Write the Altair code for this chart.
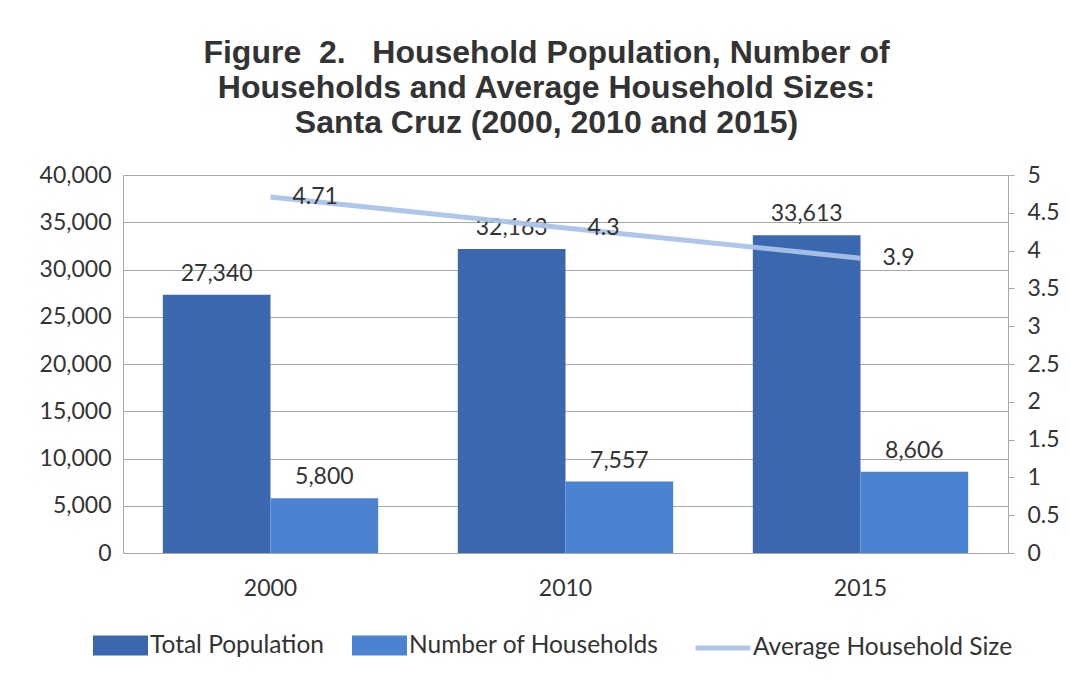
import altair as alt
import pandas as pd

years = ["2000", "2010", "2015"]
total_population = [27340, 32163, 33613]
households = [5800, 7557, 8606]
avg_household_size = [4.71, 4.3, 3.9]
bar_series = ["Total Population", "Number of Households"]
bar_colors = ["#3b67ae", "#4b83d2"]
line_series = ["Average Household Size"]
line_colors = ["#a9c3e8"]
left_ticks = [0, 5000, 10000, 15000, 20000, 25000, 30000, 35000, 40000]
right_ticks = [0, 0.5, 1, 1.5, 2, 2.5, 3, 3.5, 4, 4.5, 5]

bar_rows = []
for y, tp, hh in zip(years, total_population, households):
    bar_rows.append({"year": y, "series": bar_series[0], "value": tp})
    bar_rows.append({"year": y, "series": bar_series[1], "value": hh})
bar_df = pd.DataFrame(bar_rows)

line_df = pd.DataFrame({
    "year": years,
    "size": avg_household_size,
    "series": line_series * len(years),
})

FONT = "Lato"
TXT = "#333333"
GRID = "#a8a8a8"
TICK_FS = 23
LEG_FS = 24.5

x_enc = alt.X(
    "year:N",
    title=None,
    sort=years,
    scale=alt.Scale(paddingInner=0.27, paddingOuter=0.135),
    axis=alt.Axis(labelAngle=0, tickSize=0, labelPadding=24, domainColor=GRID,
                  labelFont=FONT, labelFontSize=TICK_FS, labelColor=TXT),
)

fill_enc = alt.Fill(
    "series:N",
    sort=bar_series,
    scale=alt.Scale(domain=bar_series, range=bar_colors),
    legend=alt.Legend(
        title=None,
        orient="none",
        direction="horizontal",
        legendX=-30,
        legendY=443,
        labelFont=FONT,
        labelFontSize=LEG_FS,
        labelColor=TXT,
        labelOffset=2,
        labelLimit=400,
        columnPadding=28,
        symbolType="M-1,-0.36H1V0.36H-1Z",
        symbolSize=3025,
        symbolStrokeWidth=0,
        symbolOpacity=1,
    ),
)

left_axis = alt.Axis(values=left_ticks, labelExpr="format(datum.value, ',')", tickSize=0,
                     labelPadding=12, grid=True, gridColor=GRID, gridWidth=1,
                     domainColor=GRID, labelFont=FONT, labelFontSize=TICK_FS, labelColor=TXT)
left_scale = alt.Scale(domain=[0, 40000], nice=False)

bars = alt.Chart(bar_df).mark_bar(opacity=1).encode(
    x=x_enc,
    xOffset=alt.XOffset("series:N", sort=bar_series, scale=alt.Scale(paddingInner=0, paddingOuter=0)),
    y=alt.Y("value:Q", title=None, scale=left_scale, axis=left_axis),
    fill=fill_enc,
)

bar_text = alt.Chart(bar_df).mark_text(
    font=FONT, fontSize=TICK_FS, color=TXT, baseline="alphabetic", dy=-14
).encode(
    x=alt.X("year:N", sort=years),
    xOffset=alt.XOffset("series:N", sort=bar_series),
    y=alt.Y("value:Q", title=None, scale=left_scale, axis=left_axis),
    text=alt.Text("value:Q", format=","),
)

right_axis = alt.Axis(orient="right", values=right_ticks, labelExpr="format(datum.value, '')",
                      tickSize=6, tickColor=GRID, labelPadding=13, grid=False,
                      domainColor=GRID, labelFont=FONT, labelFontSize=TICK_FS, labelColor=TXT)
right_scale = alt.Scale(domain=[0, 5], nice=False)

line = alt.Chart(line_df).mark_line(strokeWidth=5, opacity=0.95).encode(
    x=alt.X("year:N", sort=years),
    y=alt.Y("size:Q", title=None, scale=right_scale, axis=right_axis),
    stroke=alt.Stroke(
        "series:N",
        scale=alt.Scale(domain=line_series, range=line_colors),
        legend=alt.Legend(
            title=None,
            orient="none",
            direction="horizontal",
            legendX=570,
            legendY=443,
            labelFont=FONT,
            labelFontSize=LEG_FS,
            labelColor=TXT,
            labelOffset=0,
            labelLimit=400,
            symbolType="stroke",
            symbolSize=3025,
            symbolStrokeWidth=5,
        ),
    ),
)

line_text = alt.Chart(line_df).mark_text(
    font=FONT, fontSize=TICK_FS, color=TXT, align="left", baseline="middle", dx=22
).encode(
    x=alt.X("year:N", sort=years),
    y=alt.Y("size:Q", title=None, scale=right_scale, axis=right_axis),
    text=alt.Text("size:Q"),
)

left = alt.layer(bars, bar_text)
right = alt.layer(line, line_text)

chart = alt.layer(left, right).resolve_scale(y="independent").properties(
    width=885,
    height=378,
    autosize=alt.AutoSizeParams(type="none"),
    padding={"left": 115, "top": 167, "right": 54, "bottom": 110},
    title=alt.TitleParams(
        text=["Figure\u00a0\u00a02.\u00a0\u00a0\u00a0Household Population, Number of",
              "Households and Average Household Sizes:",
              "Santa Cruz (2000, 2010 and 2015)"],
        font="Liberation Sans",
        fontSize=32,
        fontWeight="bold",
        color=TXT,
        anchor="middle",
        lineHeight=35,
        offset=24,
        dx=-19,
    ),
).configure_view(stroke=None).configure(background="white")

chart.save("out.html", embed_options={"renderer": "svg", "actions": False})
